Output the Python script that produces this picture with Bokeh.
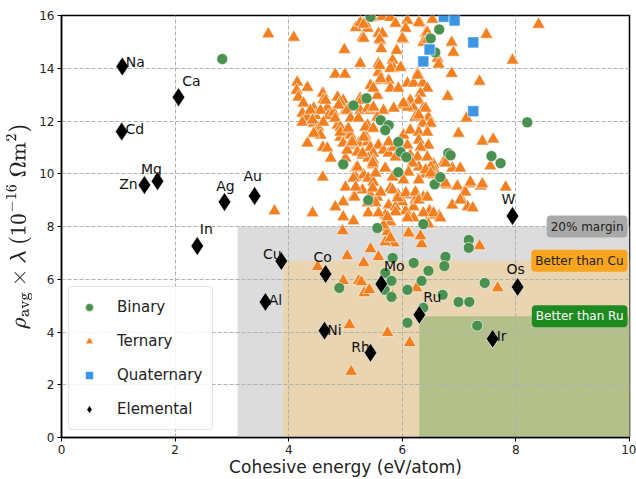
from bokeh.plotting import figure
from bokeh.models import Label, Legend, LegendItem, FixedTicker, TeX, ColumnDataSource
from bokeh.embed import file_html
from bokeh.resources import INLINE
from bokeh.core.properties import value

# ---------------- data ----------------
ternary_x = [3.64, 4.09, 4.98, 4.82, 4.99, 4.15, 4.33, 4.14, 4.60, 4.61, 4.17, 4.26, 4.44, 4.68, 4.86, 4.96,
             4.24, 4.33, 4.47, 4.56, 4.70, 4.79, 5.00, 4.24, 4.44, 4.52, 4.86, 4.95, 4.47, 4.56, 4.91, 5.03,
             4.33, 4.60, 4.68, 4.96, 5.14, 4.74, 5.00, 5.18, 4.60, 5.14, 3.75, 4.42, 4.96, 5.14, 4.95, 5.03,
             4.51, 4.96, 5.23, 5.07, 5.10, 5.44, 5.58, 5.32, 5.28, 5.33, 5.42, 5.83, 5.74, 5.85, 5.70, 6.34,
             7.36, 6.25, 7.68, 6.13, 5.40, 5.70, 5.74, 6.13, 6.32, 6.14, 6.50, 6.65,
             6.99, 7.41, 7.60, 7.55, 6.88, 7.02, 6.73, 6.55, 6.58, 6.41, 6.29, 6.55, 6.78, 6.97, 7.18, 7.38,
             7.41, 7.10, 7.82, 6.09, 6.37, 6.23, 6.20, 7.04, 6.88, 7.15, 7.24, 6.48, 6.37, 6.06, 6.20, 6.11,
             6.46,
             7.48, 6.87, 6.90, 7.94, 6.53, 6.32, 6.62, 6.64, 6.41, 6.37, 6.02, 6.87, 7.36, 6.80, 7.13, 6.27,
             6.09, 6.20, 6.36, 6.44, 6.32, 6.14, 6.29, 6.20, 6.37, 6.00, 6.23, 6.46, 6.36, 6.50, 8.40,
             5.26, 4.65, 4.91, 5.26, 5.44, 5.62, 5.56, 5.76, 5.79, 5.93, 5.58, 5.58, 5.83, 5.85, 5.90, 5.62,
             5.58, 5.30, 5.18, 5.26, 5.39, 5.35, 5.48, 5.65, 5.79, 5.88, 6.09, 6.06, 5.26, 5.44, 5.67, 6.09,
             4.38, 4.88, 5.03, 4.42, 4.61, 4.82, 5.09, 5.39, 5.56, 4.91,
             4.44, 4.91, 5.09, 5.09, 5.23, 5.03, 5.21, 5.35, 5.39, 5.44, 5.58, 5.49, 5.30, 5.40, 5.49, 5.48,
             5.70, 5.21, 5.18, 5.32, 5.40, 5.49, 5.30, 5.44, 5.56, 5.53, 5.16, 5.79, 5.93, 6.00, 5.76, 5.88,
             5.67, 5.76, 5.85, 6.09, 5.70, 5.79, 5.67, 5.79, 5.58, 6.09,
             5.32, 5.32, 5.65, 5.60, 5.63, 6.00, 6.29, 6.44, 6.44, 5.60, 5.79, 5.97, 5.62, 6.27, 5.49, 5.28,
             5.39, 5.49, 5.85, 6.02, 6.41, 6.29, 5.23, 5.05, 5.35, 5.49, 5.12, 5.32, 5.30, 5.76, 6.02, 6.14,
             6.29, 6.44, 6.29, 6.46, 6.32, 5.88, 6.14, 6.27, 6.44, 6.29, 6.50, 6.18, 6.11, 6.41, 6.76, 6.50,
             6.02, 5.83, 5.53, 5.48, 5.21, 5.14, 5.00, 5.18, 5.48, 5.62, 5.83, 5.92, 6.06, 6.23, 6.29, 6.44,
             6.76, 7.11, 7.20, 7.02, 6.55, 6.67, 5.88, 5.74, 4.96, 4.82, 5.39]
ternary_y = [15.30, 15.17, 14.70, 13.77, 13.77, 13.47, 13.27, 13.16, 13.05, 12.80, 12.90, 12.67, 12.48, 12.50, 12.90, 12.78,
             12.29, 12.14, 12.20, 12.40, 12.20, 12.33, 12.40, 11.95, 11.91, 11.76, 11.84, 11.65, 11.53, 11.46, 11.38, 11.46,
             11.16, 11.00, 10.97, 11.16, 11.08, 10.59, 10.59, 10.21, 9.87, 9.11, 8.59, 8.51, 8.36, 8.21, 7.83, 6.88,
             6.47, 5.94, 5.94, 4.27, 2.50, 7.15, 6.85, 6.62, 5.90, 5.48, 5.60, 5.37, 3.97, 7.37, 7.41, 7.34,
             7.26, 5.67, 5.67, 3.59, 8.51, 7.94, 7.80, 7.72, 7.64, 8.36, 8.43, 8.40,
             11.53, 11.23, 11.31, 10.29, 10.21, 10.21, 10.44, 10.36, 10.10, 9.98, 9.76, 9.95, 9.57, 9.53, 9.61, 9.53,
             9.61, 9.34, 9.49, 9.19, 9.11, 9.00, 8.74, 9.04, 8.81, 8.74, 8.70, 8.59, 8.51, 8.59, 8.32, 7.75,
             8.09,
             15.28, 14.98, 14.60, 14.30, 15.85, 15.70, 14.37, 14.15, 15.32, 14.98, 15.09, 13.80, 13.50, 12.93, 12.10, 13.80,
             13.43, 13.43, 13.43, 13.24, 13.05, 12.78, 12.78, 12.48, 12.48, 12.60, 12.14, 12.14, 11.91, 11.91, 15.66,
             14.18, 12.78, 12.71, 12.86, 13.35, 13.54, 12.97, 13.54, 13.24, 13.24, 13.84, 14.18, 14.30, 13.99, 14.67, 15.05,
             15.32, 15.17, 15.54, 15.73, 15.51, 15.70, 15.92, 15.96, 15.92, 15.70, 15.81, 15.51, 12.40, 12.40, 12.40, 12.52,
             12.40, 12.60, 12.40, 12.03, 11.95, 12.10, 12.10, 11.84, 12.14, 11.76,
             11.53, 11.57, 11.46, 11.16, 11.16, 10.89, 10.82, 11.46, 11.20, 11.00, 11.08, 10.78, 10.70, 10.59, 10.51, 10.33,
             10.21, 10.21, 9.87, 9.95, 9.83, 9.68, 9.38, 9.19, 9.11, 8.89, 9.11, 9.45, 9.19, 8.93, 8.81, 8.74,
             10.89, 10.78, 11.00, 11.08, 8.43, 8.17, 8.05, 7.56, 8.51, 8.32,
             15.66, 15.13, 15.32, 15.09, 14.74, 15.13, 15.73, 15.36, 15.09, 14.10, 13.99, 14.03, 13.60, 13.73, 13.24, 12.78,
             12.48, 12.52, 12.48, 12.67, 12.48, 12.22, 12.10, 11.72, 11.76, 11.72, 11.20, 11.38, 10.78, 11.20, 11.46, 11.65,
             11.57, 11.57, 11.27, 11.08, 11.00, 10.63, 10.70, 10.63, 10.63, 10.25, 10.25, 10.40, 10.06, 10.14, 10.40, 10.02,
             9.76, 9.87, 10.02, 10.40, 10.25, 9.83, 9.49, 9.49, 9.45, 9.30, 9.38, 9.08, 9.27, 9.30, 9.00, 9.11,
             9.64, 9.30, 9.68, 9.00, 8.51, 8.32, 8.55, 8.36, 8.93, 8.74, 8.89]

binary_x = [2.83, 5.14, 5.37, 5.62, 5.76, 5.70, 4.96, 5.93, 5.97, 6.07, 5.93, 6.81, 6.85, 7.57, 7.73, 8.20,
            6.57, 6.67, 5.56, 6.37, 5.40, 6.65, 6.50, 6.58, 5.44, 7.17, 7.17, 6.20, 6.76, 6.74, 6.46, 6.34,
            6.09, 6.71, 7.45, 6.99, 7.18, 6.37, 6.09, 7.32, 5.83, 5.70, 5.81, 4.89, 5.69, 5.81]
binary_y = [14.35, 12.59, 12.86, 12.03, 11.84, 11.65, 10.36, 11.20, 10.82, 10.63, 10.06, 10.78, 10.70, 10.67, 10.40, 11.95,
            9.60, 9.87, 7.94, 8.09, 9.00, 15.47, 15.13, 14.60, 15.95, 7.49, 7.19, 6.62, 6.85, 6.50, 6.32, 5.94,
            5.60, 5.41, 5.86, 5.14, 5.14, 4.92, 4.35, 4.24, 6.81, 6.24, 5.94, 5.67, 5.60, 5.33]

quaternary_x = [6.73, 6.92, 7.25, 6.48, 6.37, 7.25]
quaternary_y = [15.95, 15.81, 14.98, 14.71, 14.26, 12.37]

elements = ["Na", "Ca", "Cd", "Mg", "Zn", "Ag", "Au", "In", "Cu", "Co", "Al", "Ni", "Mo", "Ru", "Os", "Ir", "Rh", "W"]
elem_x = [1.07, 2.06, 1.06, 1.69, 1.46, 2.87, 3.40, 2.39, 3.87, 4.65, 3.59, 4.63, 5.63, 6.30, 8.03, 7.59, 5.44, 7.94]
elem_y = [14.07, 12.90, 11.60, 9.72, 9.57, 8.93, 9.16, 7.26, 6.69, 6.20, 5.14, 4.05, 5.82, 4.65, 5.71, 3.74, 3.21, 8.40]
# label placement offsets (screen px)
lab_dx = [13, 13, 13, -6, -16, 1, -2, 9, -9, -3, 10, 10, 13, 13, -2, 9, -10, -4]
lab_dy = [-4, -16, -3, -12, -1, -16, -20, -17, -7, -17, -2, -1, -18, -18, -18, -3, -6, -17]

region_names = ["20% margin", "Better than Cu", "Better than Ru"]
region_left = [3.1, 3.9, 6.3]
region_top = [8.0, 6.7, 4.6]

x_ticks = [0, 2, 4, 6, 8, 10]
y_ticks = [0, 2, 4, 6, 8, 10, 12, 14, 16]

# ---------------- figure ----------------
W, H = 636, 479
p = figure(width=W, height=H, x_range=(0, 10), y_range=(0, 16),
           output_backend="svg", toolbar_location=None,
           min_border_left=61, min_border_right=W - 629, min_border_top=15, min_border_bottom=H - 438)
p.outline_line_color = "black"
p.outline_line_width = 1.5
p.background_fill_color = "white"

FONT = "DejaVu Sans"

region_fill = ["#dcdcdc", "#e9d5b1", "#b3c08a"]
p.quad(left=region_left, right=[10, 10, 10], bottom=[0, 0, 0], top=region_top,
       fill_color=region_fill, line_color=None, level="image")

box_fill = ["#a9a9a9", "#f9a51f", "#1f8a1f"]
box_text = ["#222222", "#222222", "white"]
for name, top, bf, tc in zip(region_names, region_top, box_fill, box_text):
    p.add_layout(Label(x=10, y=top, text=name, text_align="right", text_baseline="middle",
                       x_offset=-2, text_font=FONT, text_font_size="12px", text_color=tc,
                       background_fill_color=bf, background_fill_alpha=1.0,
                       border_line_color=None, padding=4, border_radius=4))

# grid / axes
for g in (p.xgrid, p.ygrid):
    g.grid_line_color = "#b0b0b0"
    g.grid_line_dash = "4 2"
    g.grid_line_width = 1
p.xaxis.ticker = FixedTicker(ticks=x_ticks)
p.yaxis.ticker = FixedTicker(ticks=y_ticks)
for ax in (p.xaxis, p.yaxis):
    ax.axis_line_color = "black"
    ax.axis_line_width = 1.5
    ax.major_tick_line_color = "black"
    ax.major_tick_out = 4
    ax.major_tick_in = 0
    ax.minor_tick_line_color = None
    ax.major_label_text_font = FONT
    ax.major_label_text_font_size = "12px"
    ax.major_label_text_color = "#222222"
    ax.major_label_standoff = 3
    ax.axis_label_text_font = FONT
    ax.axis_label_text_font_size = "17px"
    ax.axis_label_text_font_style = "normal"
    ax.axis_label_text_color = "#222222"
p.xaxis.axis_label = "Cohesive energy (eV/atom)"
p.xaxis.axis_label_standoff = 0
p.yaxis.axis_label = TeX(r"\rho_{\mathrm{avg}} \times \lambda\ (10^{-16}\ \Omega \mathrm{m}^2)")
p.yaxis.axis_label_text_font_size = "18px"
p.yaxis.axis_label_standoff = 4

# points
r_tern = p.scatter(ternary_x, ternary_y, marker="triangle", size=13,
                   fill_color="#f28021", line_color="white", line_width=0.6)
r_bin = p.scatter(binary_x, binary_y, marker="circle", size=11,
                  fill_color="#4a9150", line_color="white", line_width=0.6)
r_quat = p.scatter(quaternary_x, quaternary_y, marker="square", size=11,
                   fill_color="#3d96e4", line_color="white", line_width=0.6)
r_elem = p.scatter(elem_x, elem_y, marker="diamond", size=19,
                   fill_color="black", line_color="white", line_width=0.6)

src = ColumnDataSource(dict(x=elem_x, y=elem_y, t=elements, dx=lab_dx, dy=lab_dy))
p.text(x="x", y="y", text="t", x_offset="dx", y_offset="dy", source=src,
       text_align="center", text_baseline="middle", text_font=value(FONT),
       text_font_size="14px", text_color="#111111")

legend = Legend(items=[LegendItem(label="Binary", renderers=[r_bin]),
                       LegendItem(label="Ternary", renderers=[r_tern]),
                       LegendItem(label="Quaternary", renderers=[r_quat]),
                       LegendItem(label="Elemental", renderers=[r_elem])],
                location="bottom_left", margin=7, padding=10, spacing=14,
                glyph_width=20, glyph_height=20, label_height=20, label_standoff=18,
                label_text_font=FONT, label_text_font_size="15px", label_text_color="#222222",
                border_line_color="#cccccc", border_line_width=1, border_radius=4,
                background_fill_alpha=0.85)
p.add_layout(legend, "center")

open("out.html", "w").write(file_html(p, INLINE))
